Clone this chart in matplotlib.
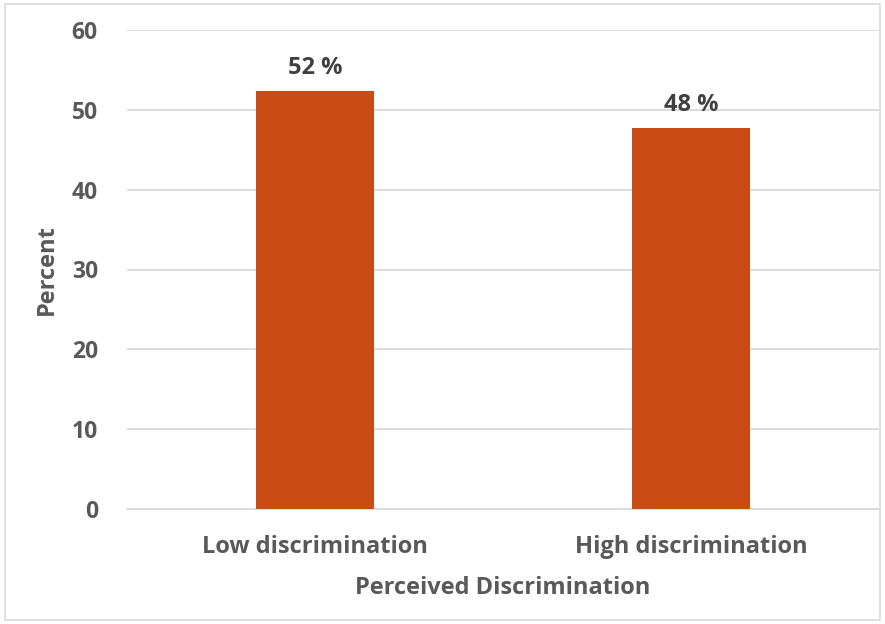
import matplotlib.pyplot as plt
from matplotlib.patches import Rectangle

# data
categories = ['Low discrimination', 'High discrimination']
percent = [52.3, 47.7]
bar_labels = ['52 %', '48 %']
y_ticks = [0, 10, 20, 30, 40, 50, 60]

plt.rcParams['font.family'] = ['Open Sans', 'DejaVu Sans']
plt.rcParams['font.weight'] = 'bold'

bar_color = '#C94C16'
text_color = '#595959'
label_color = '#404040'
grid_color = '#D9D9D9'

fig = plt.figure(figsize=(8.85, 6.24), dpi=100)
ax = fig.add_axes([127 / 885, 115 / 624, 752 / 885, 479 / 624])

x = list(range(len(categories)))
bars = ax.bar(x, percent, width=0.314, color=bar_color, zorder=3)

for b, lab in zip(bars, bar_labels):
    ax.annotate(lab, (b.get_x() + b.get_width() / 2, b.get_height()),
                xytext=(0, 8), textcoords='offset points',
                ha='center', va='bottom', fontsize=17, fontweight='bold',
                color=label_color)

ax.set_xlim(-0.5, 1.5)
ax.set_ylim(0, 60)
ax.set_yticks(y_ticks)
ax.set_xticks(x)
ax.set_xticklabels(categories)
ax.tick_params(axis='y', length=0, pad=21, labelsize=16.5, labelcolor=text_color)
ax.tick_params(axis='x', length=0, pad=19, labelsize=17, labelcolor=text_color)
ax.yaxis.grid(True, color=grid_color, linewidth=1.3, zorder=0)
for s in ['top', 'right', 'left']:
    ax.spines[s].set_visible(False)
ax.spines['bottom'].set_color(grid_color)
ax.spines['bottom'].set_linewidth(1.3)

ax.set_ylabel('Percent', fontsize=17, fontweight='bold', color=text_color, labelpad=9)
ax.set_xlabel('Perceived Discrimination', fontsize=17, fontweight='bold',
              color=text_color, labelpad=12)

# light frame around the chart area
fig.patches.append(Rectangle((5 / 885, 4 / 624), 875 / 885, 616 / 624,
                             transform=fig.transFigure, fill=False,
                             edgecolor='#D9D9D9', linewidth=1.2))

fig.savefig('out.png', dpi=100)
